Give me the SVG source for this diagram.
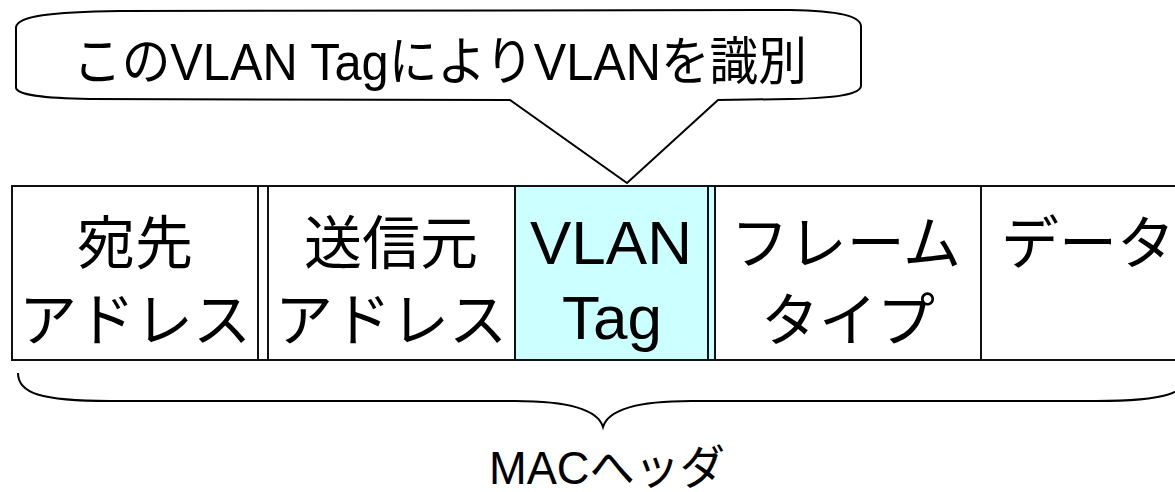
<svg xmlns="http://www.w3.org/2000/svg" width="1175" height="492" viewBox="0 0 1175 492">
<style>
.box{stroke:#111;stroke-width:2;fill:#fff}
.cyan{fill:#ccffff}
.jp{font-family:"Liberation Sans","Noto Sans CJK JP",sans-serif;font-size:58px;fill:#000;text-anchor:middle}
.lat{font-family:"Liberation Sans","Noto Sans CJK JP",sans-serif;font-size:62px;fill:#000;text-anchor:middle}
.line{stroke:#000;stroke-width:2;fill:none}
</style>
<rect width="1175" height="492" fill="#fff"/>
<g id="callout">
<path class="line" style="fill:#fff" d="M16,27 C18,16 50,12 120,11 L790,10 C840,11 860,16 861,26 L861,86 C860,94 840,98 790,99 L718,100 L627,183 L510,100 L90,99 C40,98 18,95 16,88 Z"/>
<text x="73" y="80" textLength="734" lengthAdjust="spacingAndGlyphs" style="font-family:'Liberation Sans','Noto Sans CJK JP',sans-serif;font-size:52px;fill:#000">このVLAN TagによりVLANを識別</text>
</g>
<g id="dest">
<rect class="box" x="12" y="186" width="246" height="174"/>
<text class="jp" x="135" y="264">宛先</text>
<text class="jp" x="135" y="341">アドレス</text>
</g>
<g id="sep1"><rect class="box" x="258" y="186" width="10" height="174"/></g>
<g id="src">
<rect class="box" x="268" y="186" width="247" height="174"/>
<text class="jp" x="391" y="264">送信元</text>
<text class="jp" x="391" y="341">アドレス</text>
</g>
<g id="vlan">
<rect class="box cyan" x="515" y="186" width="193" height="174"/>
<text class="lat" x="611" y="264">VLAN</text>
<text class="lat" x="612" y="339">Tag</text>
</g>
<g id="sep2"><rect class="box cyan" x="708" y="186" width="7" height="174"/></g>
<g id="frametype">
<rect class="box" x="715" y="186" width="266" height="174"/>
<text class="jp" x="846" y="264">フレーム</text>
<text class="jp" x="848" y="341">タイプ</text>
</g>
<g id="data">
<rect class="box" x="981" y="186" width="240" height="174"/>
<text class="jp" x="1001" y="264" style="text-anchor:start">データ</text>
</g>
<g id="connectors">
<path class="line" d="M18,373 C18,393 40,401 110,401 L515,401 C570,401 598,410 603,427 C608,410 636,401 691,401 L1096,401 C1166,401 1188,393 1188,373"/>
</g>
<g id="label">
<text x="607" y="484" textLength="236" lengthAdjust="spacingAndGlyphs" style="font-family:'Liberation Sans','Noto Sans CJK JP',sans-serif;font-size:47px;fill:#000;text-anchor:middle">MACへッダ</text>
</g>
</svg>
